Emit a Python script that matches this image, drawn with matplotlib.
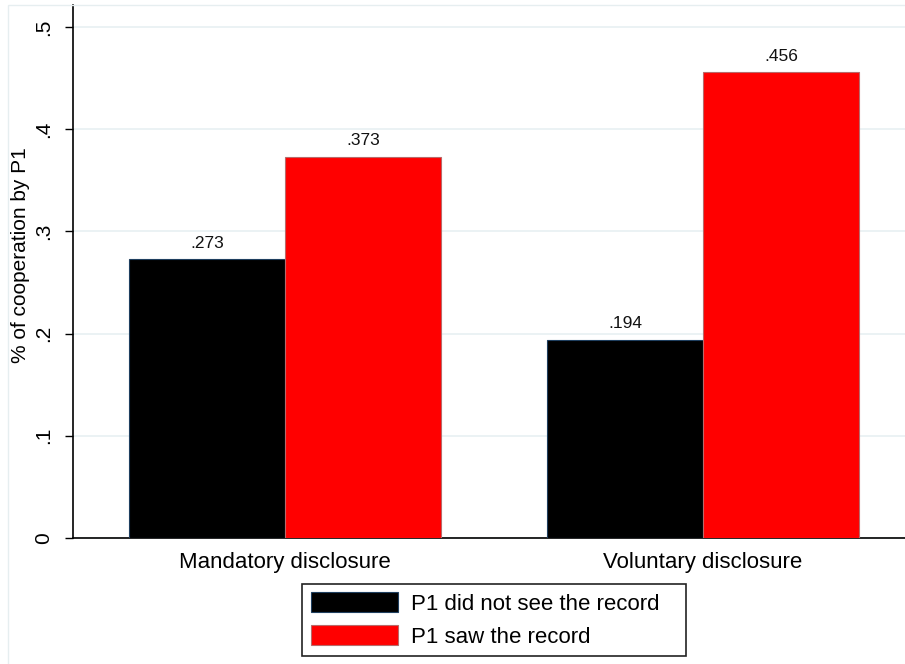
import matplotlib.pyplot as plt
from matplotlib.patches import Rectangle
import numpy as np

plt.rcParams['font.family'] = ['Liberation Sans', 'DejaVu Sans']

groups = ['Mandatory disclosure', 'Voluntary disclosure']
series = ['P1 did not see the record', 'P1 saw the record']
not_seen = [0.273, 0.194]
seen = [0.373, 0.456]
yticks = [0, 0.1, 0.2, 0.3, 0.4, 0.5]
ytick_labels = ['0', '.1', '.2', '.3', '.4', '.5']

fig = plt.figure(figsize=(9.05, 6.64), dpi=100)
ax = fig.add_axes([73 / 905, 1 - 538 / 664, 842 / 905, 533 / 664])

# faint outer graph-region frame
fig.patches.append(Rectangle((8 / 905, -0.01), 1.2, 1 - 5 / 664 + 0.01,
                             transform=fig.transFigure, fill=False,
                             edgecolor='#e6eef0', lw=1.0, zorder=0))

x = np.arange(len(groups))
w = 0.373
b1 = ax.bar(x - w / 2, not_seen, w, color='black', edgecolor='#1f3f5f', lw=0.8,
            label=series[0], zorder=3)
b2 = ax.bar(x + w / 2, seen, w, color='#ff0000', edgecolor='#b86a6a', lw=0.8,
            label=series[1], zorder=3)

for bars, vals in [(b1, not_seen), (b2, seen)]:
    for rect, v in zip(bars, vals):
        ax.annotate(('%.3f' % v).lstrip('0'),
                    (rect.get_x() + rect.get_width() / 2, v),
                    xytext=(0, 6), textcoords='offset points',
                    ha='center', va='bottom', fontsize=12.5, color='#111111')

ax.set_xlim(-0.507, 1.507)
ax.set_ylim(0, 0.5215)
ax.set_yticks(yticks)
ax.set_yticklabels(ytick_labels, rotation=90, va='center', fontsize=15)
ax.set_xticks(x)
ax.set_xticklabels(groups, fontsize=16)
ax.tick_params(axis='x', length=0, pad=10)
ax.tick_params(axis='y', length=6, width=1, pad=8)
ax.set_ylabel('% of cooperation by P1', fontsize=15, va='center')
ax.yaxis.set_label_coords((20 - 73) / 842, (538 - 255) / 533)

ax.grid(axis='y', color='#e8f0f2', lw=1.2, zorder=0)
ax.set_axisbelow(True)
for s in ['top', 'right']:
    ax.spines[s].set_visible(False)
ax.spines['left'].set_linewidth(1.2)
ax.spines['bottom'].set_linewidth(1.2)

leg = fig.legend(loc='center', mode='expand', borderaxespad=0,
                 bbox_to_anchor=(302 / 905, 1 - 657 / 664, 384 / 905, 74 / 664),
                 fontsize=16, frameon=True, fancybox=False, framealpha=1,
                 edgecolor='#222222', handlelength=3.9, handleheight=1.0,
                 labelspacing=0.45, borderpad=0.4, handletextpad=0.6)
leg.get_frame().set_linewidth(1.2)

fig.savefig('out.png', dpi=100)
